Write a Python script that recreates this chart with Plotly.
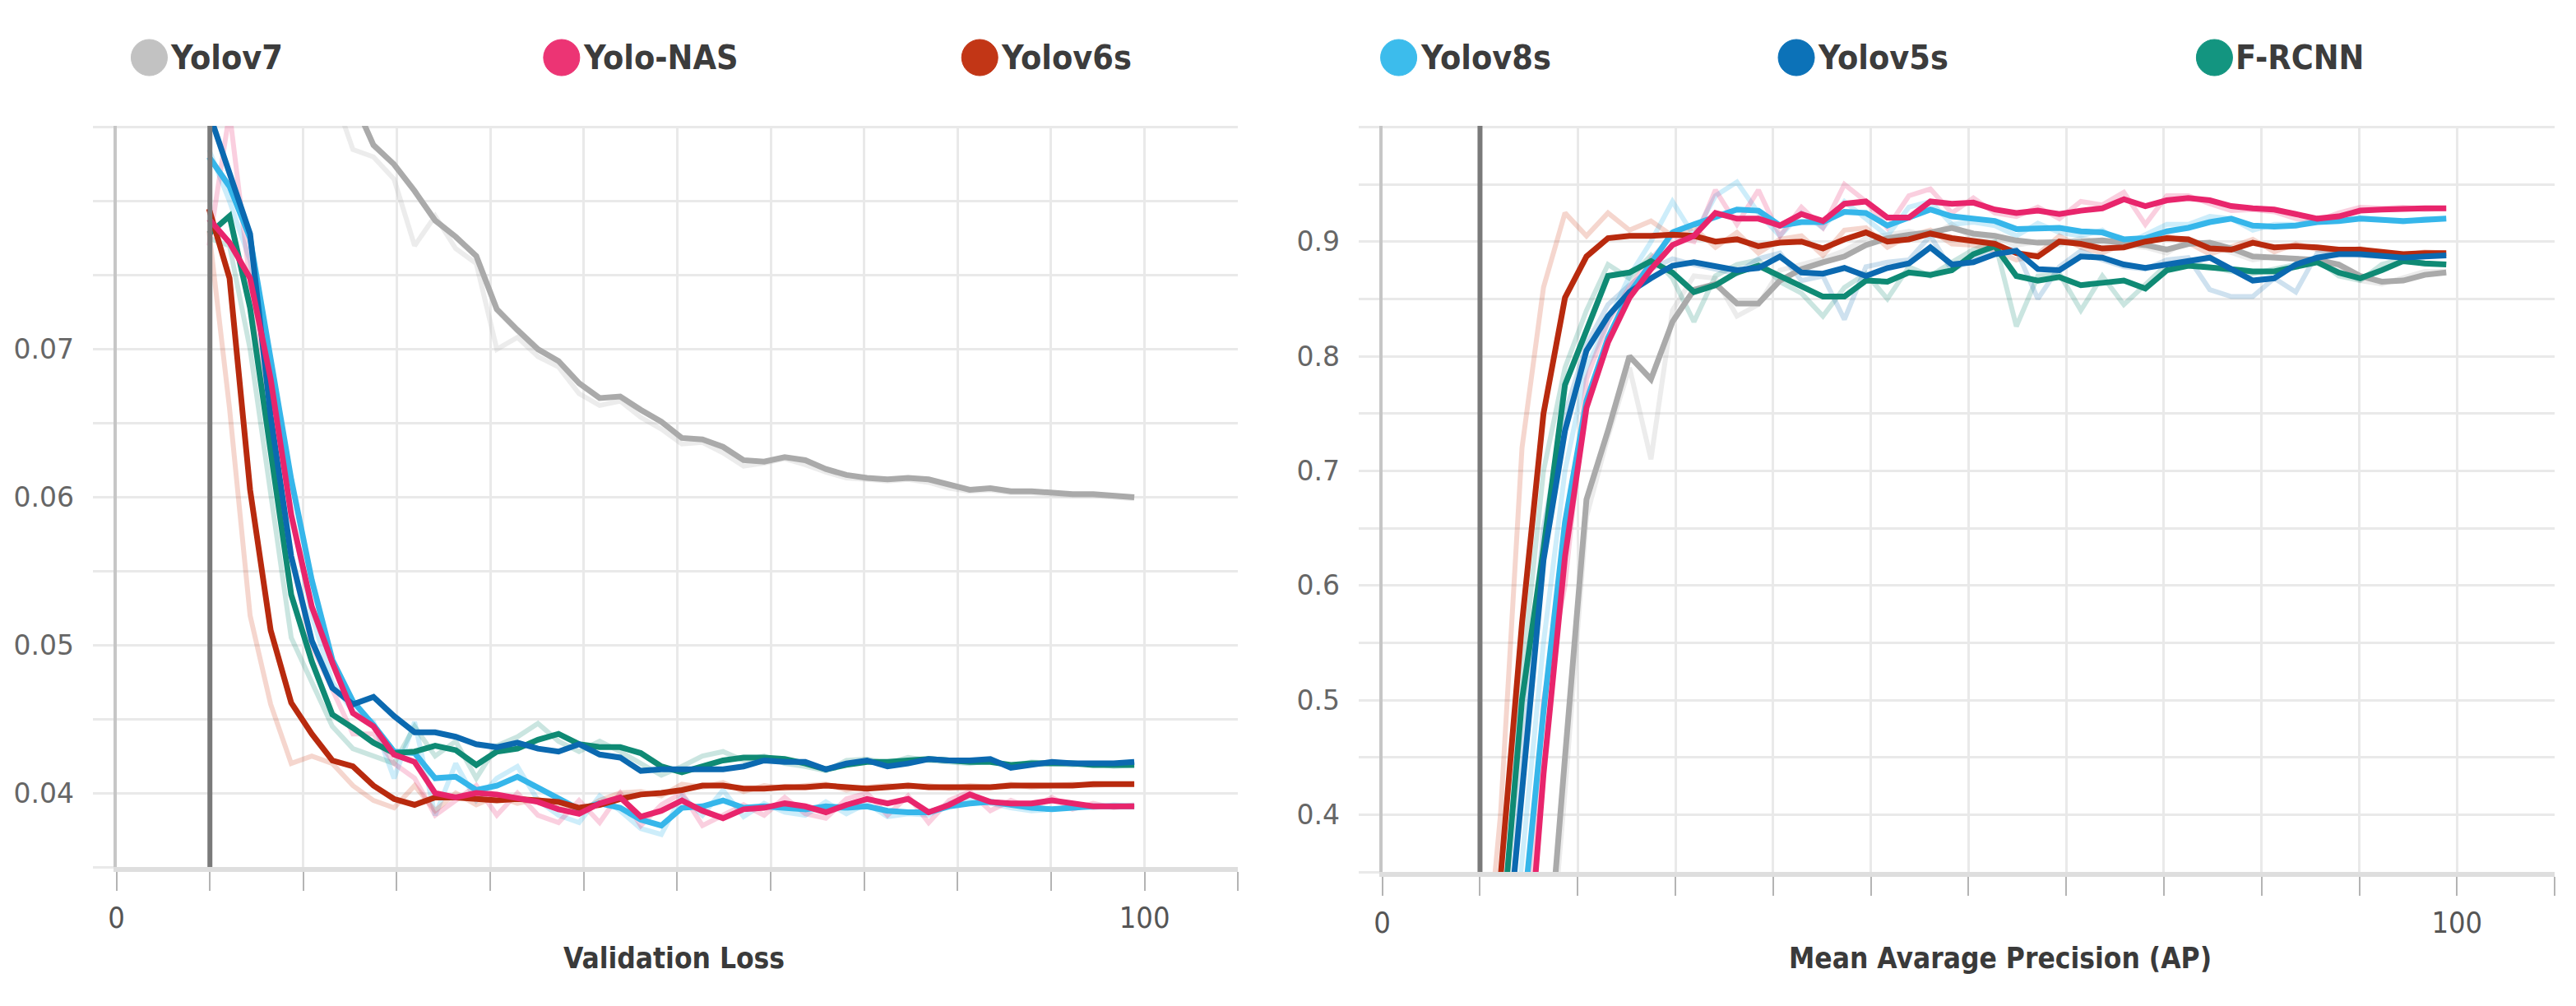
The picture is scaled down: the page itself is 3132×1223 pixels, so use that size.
import plotly.graph_objects as go

# ---------------- data ----------------
MODELS = ["Yolov7", "Yolo-NAS", "Yolov6s", "Yolov8s", "Yolov5s", "F-RCNN"]

EPOCHS = [9, 11, 13, 15, 17, 19, 21, 23, 25, 27,
          29, 31, 33, 35, 37, 39, 41, 43, 45, 47,
          49, 51, 53, 55, 57, 59, 61, 63, 65, 67,
          69, 71, 73, 75, 77, 79, 81, 83, 85, 87,
          89, 91, 93, 95, 97, 99]

# Validation loss (left panel), smoothed curves
LOSS_YOLOV7 = [0.130, 0.120, 0.110, 0.102, 0.097, 0.093, 0.090, 0.087, 0.0838, 0.0825,
               0.0807, 0.0787, 0.0776, 0.0763, 0.0727, 0.0713, 0.0700, 0.0692, 0.0677, 0.0667,
               0.0668, 0.0659, 0.0651, 0.0640, 0.0639, 0.0634, 0.0625, 0.0624, 0.0627, 0.0625,
               0.0619, 0.0615, 0.0613, 0.0612, 0.0613, 0.0612, 0.0608, 0.0605, 0.0606, 0.0604,
               0.0604, 0.0603, 0.0602, 0.0602, 0.0601, 0.0600]
LOSS_YOLONAS = [0.0788, 0.0772, 0.0748, 0.0680, 0.0588, 0.0526, 0.0488, 0.0454, 0.0445, 0.0426,
                0.0421, 0.0400, 0.0397, 0.0400, 0.0399, 0.0396, 0.0394, 0.0389, 0.0386, 0.0393,
                0.0397, 0.0384, 0.0388, 0.0395, 0.0388, 0.0383, 0.0389, 0.0390, 0.0393, 0.0391,
                0.0387, 0.0392, 0.0396, 0.0393, 0.0396, 0.0387, 0.0392, 0.0399, 0.0394, 0.0393,
                0.0393, 0.0395, 0.0393, 0.0391, 0.0391, 0.0391]
LOSS_YOLOV6S = [0.0795, 0.0748, 0.0605, 0.0510, 0.0461, 0.0440, 0.0422, 0.0418, 0.0405, 0.0396,
                0.0392, 0.0397, 0.0397, 0.0396, 0.0395, 0.0396, 0.0395, 0.0394, 0.0390, 0.0392,
                0.0396, 0.0399, 0.0400, 0.0402, 0.0405, 0.0405, 0.0403, 0.0403, 0.0404, 0.0404,
                0.0405, 0.0404, 0.0403, 0.0404, 0.0405, 0.0404, 0.0404, 0.0404, 0.0404, 0.0405,
                0.0405, 0.0405, 0.0405, 0.0406, 0.0406, 0.0406]
LOSS_YOLOV8S = [0.0830, 0.0810, 0.0775, 0.0695, 0.0612, 0.0544, 0.0490, 0.0462, 0.0446, 0.0428,
                0.0427, 0.0410, 0.0411, 0.0402, 0.0405, 0.0411, 0.0404, 0.0397, 0.0389, 0.0393,
                0.0390, 0.0382, 0.0378, 0.0390, 0.0391, 0.0395, 0.0390, 0.0391, 0.0390, 0.0389,
                0.0391, 0.0390, 0.0391, 0.0388, 0.0387, 0.0387, 0.0391, 0.0393, 0.0394, 0.0392,
                0.0390, 0.0389, 0.0390, 0.0391, 0.0391, 0.0391]
LOSS_YOLOV5S = [0.0860, 0.0818, 0.0778, 0.0655, 0.0560, 0.0503, 0.0471, 0.0460, 0.0465, 0.0452,
                0.0441, 0.0441, 0.0438, 0.0433, 0.0431, 0.0434, 0.0430, 0.0428, 0.0433, 0.0426,
                0.0424, 0.0415, 0.0416, 0.0416, 0.0416, 0.0416, 0.0418, 0.0422, 0.0421, 0.0421,
                0.0416, 0.0420, 0.0422, 0.0418, 0.0420, 0.0423, 0.0422, 0.0422, 0.0423, 0.0417,
                0.0419, 0.0421, 0.0420, 0.0420, 0.0420, 0.0421]
LOSS_FRCNN = [0.0778, 0.0790, 0.0728, 0.0632, 0.0534, 0.0489, 0.0453, 0.0444, 0.0434, 0.0427,
              0.0428, 0.0432, 0.0429, 0.0419, 0.0428, 0.0430, 0.0436, 0.0440, 0.0433, 0.0431,
              0.0431, 0.0427, 0.0418, 0.0414, 0.0418, 0.0422, 0.0424, 0.0424, 0.0423, 0.0420,
              0.0416, 0.0419, 0.0421, 0.0421, 0.0422, 0.0423, 0.0422, 0.0421, 0.0421, 0.0419,
              0.0420, 0.0420, 0.0420, 0.0419, 0.0419, 0.0419]

# Validation loss, raw (faint) curves
LOSS_YOLOV7_RAW = [0.125, 0.115, 0.105, 0.099, 0.095, 0.091, 0.0875, 0.0835, 0.0830, 0.0815,
                   0.0770, 0.0790, 0.0768, 0.0758, 0.0700, 0.0708, 0.0695, 0.0688, 0.0670, 0.0662,
                   0.0665, 0.0654, 0.0646, 0.0636, 0.0637, 0.0630, 0.0621, 0.0623, 0.0626, 0.0622,
                   0.0617, 0.0613, 0.0612, 0.0611, 0.0612, 0.0610, 0.0606, 0.0604, 0.0605, 0.0603,
                   0.0603, 0.0602, 0.0601, 0.0601, 0.0600, 0.0599]
LOSS_YOLONAS_RAW = [0.0770, 0.0860, 0.0745, 0.0640, 0.0560, 0.0500, 0.0470, 0.0440, 0.0440, 0.0420,
                    0.0410, 0.0385, 0.0395, 0.0405, 0.0385, 0.0400, 0.0385, 0.0380, 0.0395, 0.0380,
                    0.0400, 0.0378, 0.0392, 0.0400, 0.0378, 0.0385, 0.0392, 0.0385, 0.0397, 0.0386,
                    0.0383, 0.0396, 0.0400, 0.0385, 0.0398, 0.0380, 0.0395, 0.0401, 0.0388, 0.0395,
                    0.0390, 0.0397, 0.0389, 0.0393, 0.0390, 0.0392]
LOSS_YOLOV6S_RAW = [0.0780, 0.0660, 0.0520, 0.0460, 0.0420, 0.0425, 0.0420, 0.0405, 0.0395, 0.0390,
                    0.0405, 0.0388, 0.0400, 0.0392, 0.0398, 0.0393, 0.0396, 0.0390, 0.0387, 0.0395,
                    0.0400, 0.0401, 0.0398, 0.0406, 0.0404, 0.0407, 0.0401, 0.0405, 0.0403, 0.0405,
                    0.0406, 0.0402, 0.0404, 0.0405, 0.0404, 0.0405, 0.0403, 0.0405, 0.0404, 0.0406,
                    0.0404, 0.0405, 0.0406, 0.0405, 0.0406, 0.0406]
LOSS_YOLOV8S_RAW = [0.0835, 0.0800, 0.0760, 0.0680, 0.0590, 0.0520, 0.0475, 0.0455, 0.0448, 0.0410,
                    0.0448, 0.0385, 0.0420, 0.0395, 0.0410, 0.0418, 0.0395, 0.0385, 0.0380, 0.0398,
                    0.0388, 0.0376, 0.0372, 0.0398, 0.0385, 0.0402, 0.0384, 0.0393, 0.0387, 0.0385,
                    0.0394, 0.0386, 0.0393, 0.0384, 0.0386, 0.0385, 0.0393, 0.0395, 0.0393, 0.0390,
                    0.0388, 0.0389, 0.0391, 0.0390, 0.0392, 0.0391]
LOSS_FRCNN_RAW = [0.0775, 0.0770, 0.0700, 0.0600, 0.0505, 0.0475, 0.0445, 0.0430, 0.0425, 0.0420,
                  0.0445, 0.0425, 0.0435, 0.0410, 0.0432, 0.0438, 0.0447, 0.0435, 0.0428, 0.0435,
                  0.0428, 0.0420, 0.0412, 0.0418, 0.0425, 0.0428, 0.0422, 0.0425, 0.0420, 0.0418,
                  0.0415, 0.0422, 0.0423, 0.0420, 0.0424, 0.0422, 0.0421, 0.0420, 0.0422, 0.0418,
                  0.0421, 0.0420, 0.0419, 0.0420, 0.0418, 0.0419]

# Mean average precision (right panel), smoothed curves
AP_YOLOV7 = [0.00, 0.05, 0.12, 0.22, 0.45, 0.675, 0.735, 0.800, 0.780, 0.830,
             0.858, 0.863, 0.846, 0.846, 0.866, 0.876, 0.882, 0.887, 0.897, 0.903,
             0.906, 0.908, 0.912, 0.907, 0.905, 0.901, 0.899, 0.899, 0.900, 0.901,
             0.899, 0.897, 0.893, 0.898, 0.899, 0.894, 0.887, 0.886, 0.886, 0.884,
             0.880, 0.870, 0.865, 0.866, 0.871, 0.873]
AP_YOLONAS = [0.02, 0.10, 0.20, 0.435, 0.625, 0.755, 0.812, 0.851, 0.876, 0.897,
              0.905, 0.925, 0.920, 0.920, 0.914, 0.924, 0.918, 0.933, 0.935, 0.921,
              0.921, 0.935, 0.933, 0.934, 0.928, 0.925, 0.927, 0.924, 0.927, 0.929,
              0.937, 0.931, 0.936, 0.938, 0.936, 0.931, 0.929, 0.928, 0.924, 0.920,
              0.922, 0.927, 0.928, 0.929, 0.929, 0.929]
AP_YOLOV6S = [0.25, 0.345, 0.567, 0.750, 0.851, 0.887, 0.903, 0.905, 0.905, 0.906,
              0.905, 0.900, 0.902, 0.896, 0.899, 0.900, 0.894, 0.902, 0.908, 0.900,
              0.902, 0.907, 0.903, 0.900, 0.898, 0.890, 0.887, 0.900, 0.898, 0.894,
              0.895, 0.900, 0.903, 0.902, 0.894, 0.893, 0.899, 0.895, 0.896, 0.895,
              0.893, 0.893, 0.891, 0.889, 0.890, 0.890]
AP_YOLOV8S = [0.05, 0.15, 0.30, 0.490, 0.655, 0.761, 0.816, 0.855, 0.881, 0.908,
              0.915, 0.921, 0.928, 0.927, 0.914, 0.917, 0.917, 0.926, 0.925, 0.914,
              0.921, 0.928, 0.922, 0.920, 0.918, 0.911, 0.912, 0.912, 0.909, 0.908,
              0.902, 0.903, 0.909, 0.912, 0.917, 0.920, 0.914, 0.913, 0.914, 0.917,
              0.918, 0.920, 0.919, 0.918, 0.919, 0.920]
AP_YOLOV5S = [0.10, 0.22, 0.420, 0.622, 0.735, 0.805, 0.835, 0.856, 0.868, 0.879,
              0.882, 0.879, 0.875, 0.877, 0.887, 0.873, 0.872, 0.877, 0.870, 0.877,
              0.881, 0.895, 0.880, 0.882, 0.889, 0.892, 0.876, 0.875, 0.887, 0.886,
              0.880, 0.877, 0.880, 0.884, 0.886, 0.876, 0.866, 0.868, 0.880, 0.886,
              0.889, 0.889, 0.888, 0.886, 0.887, 0.888]
AP_FRCNN = [0.15, 0.28, 0.500, 0.632, 0.775, 0.822, 0.870, 0.873, 0.883, 0.873,
            0.856, 0.862, 0.873, 0.879, 0.870, 0.862, 0.852, 0.852, 0.866, 0.865,
            0.873, 0.871, 0.875, 0.889, 0.896, 0.870, 0.866, 0.869, 0.862, 0.864,
            0.866, 0.859, 0.875, 0.879, 0.878, 0.876, 0.874, 0.874, 0.878, 0.882,
            0.873, 0.868, 0.875, 0.883, 0.881, 0.880]

# Mean average precision, raw (faint) curves
AP_YOLOV7_RAW = [0.00, 0.04, 0.10, 0.20, 0.42, 0.66, 0.73, 0.79, 0.71, 0.84,
                 0.870, 0.868, 0.835, 0.845, 0.875, 0.880, 0.885, 0.892, 0.903, 0.906,
                 0.909, 0.905, 0.915, 0.903, 0.903, 0.897, 0.900, 0.897, 0.903, 0.899,
                 0.897, 0.895, 0.890, 0.902, 0.897, 0.890, 0.884, 0.887, 0.884, 0.882,
                 0.877, 0.866, 0.863, 0.868, 0.874, 0.874]
AP_YOLONAS_RAW = [0.02, 0.08, 0.22, 0.50, 0.600, 0.78, 0.83, 0.86, 0.885, 0.905,
                  0.900, 0.945, 0.915, 0.945, 0.905, 0.930, 0.912, 0.950, 0.935, 0.912,
                  0.940, 0.946, 0.925, 0.938, 0.925, 0.922, 0.930, 0.920, 0.935, 0.932,
                  0.943, 0.915, 0.940, 0.940, 0.933, 0.927, 0.928, 0.926, 0.920, 0.918,
                  0.925, 0.930, 0.929, 0.930, 0.928, 0.929]
AP_YOLOV6S_RAW = [0.20, 0.40, 0.72, 0.860, 0.925, 0.905, 0.925, 0.910, 0.918, 0.905,
                  0.912, 0.895, 0.908, 0.890, 0.902, 0.905, 0.888, 0.910, 0.912, 0.895,
                  0.905, 0.910, 0.898, 0.897, 0.892, 0.884, 0.889, 0.905, 0.895, 0.890,
                  0.898, 0.903, 0.905, 0.899, 0.889, 0.896, 0.902, 0.891, 0.898, 0.893,
                  0.891, 0.894, 0.889, 0.888, 0.891, 0.890]
AP_YOLOV8S_RAW = [0.06, 0.18, 0.36, 0.55, 0.70, 0.79, 0.83, 0.87, 0.90, 0.935,
                  0.905, 0.940, 0.952, 0.925, 0.905, 0.925, 0.912, 0.935, 0.920, 0.905,
                  0.930, 0.935, 0.915, 0.917, 0.914, 0.905, 0.916, 0.908, 0.905, 0.910,
                  0.897, 0.906, 0.915, 0.915, 0.922, 0.920, 0.910, 0.915, 0.915, 0.919,
                  0.918, 0.921, 0.919, 0.917, 0.920, 0.920]
AP_YOLOV5S_RAW = [0.08, 0.20, 0.45, 0.65, 0.75, 0.81, 0.845, 0.862, 0.876, 0.885,
                  0.880, 0.876, 0.872, 0.885, 0.890, 0.866, 0.870, 0.832, 0.878, 0.882,
                  0.884, 0.905, 0.875, 0.885, 0.895, 0.893, 0.850, 0.878, 0.892, 0.884,
                  0.878, 0.876, 0.884, 0.886, 0.858, 0.852, 0.852, 0.868, 0.856, 0.890,
                  0.891, 0.888, 0.887, 0.886, 0.888, 0.888]
AP_FRCNN_RAW = [0.12, 0.26, 0.52, 0.70, 0.79, 0.84, 0.88, 0.868, 0.888, 0.868,
                0.830, 0.870, 0.880, 0.884, 0.865, 0.855, 0.835, 0.860, 0.872, 0.850,
                0.878, 0.870, 0.882, 0.893, 0.900, 0.826, 0.870, 0.872, 0.840, 0.870,
                0.845, 0.862, 0.880, 0.882, 0.878, 0.874, 0.872, 0.876, 0.880, 0.884,
                0.870, 0.866, 0.880, 0.885, 0.880, 0.880]

X_TICK_LABELS = ["0", "", "", "", "", "", "", "", "", "", "", "100", ""]
LOSS_TICKS = [0.035, 0.04, 0.045, 0.05, 0.055, 0.06, 0.065, 0.07, 0.075, 0.08, 0.085]
LOSS_TICK_LABELS = ["", "0.04", "", "0.05", "", "0.06", "", "0.07", "", "", ""]
AP_TICKS = [0.35, 0.4, 0.45, 0.5, 0.55, 0.6, 0.65, 0.7, 0.75, 0.8, 0.85, 0.9, 0.95, 1.0]
AP_TICK_LABELS = ["", "0.4", "", "0.5", "", "0.6", "", "0.7", "", "0.8", "", "0.9", "", ""]
X_LABELS = ["Validation Loss", "Mean Avarage Precision (AP)"]

LOSS = {"Yolov7": LOSS_YOLOV7, "Yolo-NAS": LOSS_YOLONAS, "Yolov6s": LOSS_YOLOV6S,
        "Yolov8s": LOSS_YOLOV8S, "Yolov5s": LOSS_YOLOV5S, "F-RCNN": LOSS_FRCNN}
AP = {"Yolov7": AP_YOLOV7, "Yolo-NAS": AP_YOLONAS, "Yolov6s": AP_YOLOV6S,
      "Yolov8s": AP_YOLOV8S, "Yolov5s": AP_YOLOV5S, "F-RCNN": AP_FRCNN}
LOSS_RAW = {"Yolov7": LOSS_YOLOV7_RAW, "Yolo-NAS": LOSS_YOLONAS_RAW, "Yolov6s": LOSS_YOLOV6S_RAW,
            "Yolov8s": LOSS_YOLOV8S_RAW, "F-RCNN": LOSS_FRCNN_RAW}
AP_RAW = {"Yolov7": AP_YOLOV7_RAW, "Yolo-NAS": AP_YOLONAS_RAW, "Yolov6s": AP_YOLOV6S_RAW,
          "Yolov8s": AP_YOLOV8S_RAW, "Yolov5s": AP_YOLOV5S_RAW, "F-RCNN": AP_FRCNN_RAW}

# ---------------- style ----------------
W, H = 3132, 1223
COLORS = {"Yolov7": "#aaaaaa", "Yolo-NAS": "#e8256c", "Yolov6s": "#b82a0e",
          "Yolov8s": "#36b6ea", "Yolov5s": "#0b69b0", "F-RCNN": "#0f8a74"}
FAINT = {"Yolov7": "rgba(180,180,180,0.25)", "Yolo-NAS": "rgba(232,37,108,0.22)",
         "Yolov6s": "rgba(214,90,60,0.25)", "Yolov8s": "rgba(54,182,234,0.25)",
         "Yolov5s": "rgba(11,105,176,0.20)", "F-RCNN": "rgba(15,138,116,0.22)"}
LEGEND_COLORS = {"Yolov7": "#c2c2c2", "Yolo-NAS": "#ec3474", "Yolov6s": "#c23616",
                 "Yolov8s": "#3cbcec", "Yolov5s": "#0c72b8", "F-RCNN": "#139580"}
DRAW_ORDER = ["Yolov7", "Yolov8s", "F-RCNN", "Yolov6s", "Yolov5s", "Yolo-NAS"]
COND = "DejaVu Sans Condensed, Liberation Sans Narrow, Roboto, sans-serif"
NUMFONT = "DejaVu Sans, Verdana, sans-serif"

STEP = 100 / 11
X_TICKS = [i * STEP for i in range(13)]
X_RANGE = [0, 12 * STEP]

fig = go.Figure()
# faint raw curves underneath
for name in DRAW_ORDER:
    if name in LOSS_RAW:
        fig.add_trace(go.Scatter(x=EPOCHS, y=LOSS_RAW[name], mode="lines",
                                 line=dict(color=FAINT[name], width=6),
                                 xaxis="x", yaxis="y", showlegend=False, hoverinfo="skip"))
    if name in AP_RAW:
        fig.add_trace(go.Scatter(x=EPOCHS, y=AP_RAW[name], mode="lines",
                                 line=dict(color=FAINT[name], width=6),
                                 xaxis="x2", yaxis="y2", showlegend=False, hoverinfo="skip"))
# smoothed curves
for name in DRAW_ORDER:
    fig.add_trace(go.Scatter(x=EPOCHS, y=LOSS[name], mode="lines", name=name,
                             line=dict(color=COLORS[name], width=7),
                             xaxis="x", yaxis="y", showlegend=False, hoverinfo="skip"))
    fig.add_trace(go.Scatter(x=EPOCHS, y=AP[name], mode="lines", name=name,
                             line=dict(color=COLORS[name], width=7),
                             xaxis="x2", yaxis="y2", showlegend=False, hoverinfo="skip"))

def xax(domain):
    return dict(domain=domain, range=X_RANGE, tickmode="array", tickvals=X_TICKS,
                ticktext=X_TICK_LABELS, showgrid=True, gridcolor="#e9e9e9", gridwidth=3,
                ticks="outside", ticklen=23, tickwidth=2, tickcolor="#b4b4b4",
                showline=True, linecolor="#dedede", linewidth=6, zeroline=False,
                tickfont=dict(family=COND, size=36, color="#555555"),
                ticklabelstandoff=2, fixedrange=True)

def yax(domain, rng, tv, tt, anchor):
    return dict(domain=domain, range=rng, tickmode="array", tickvals=tv, ticktext=tt,
                showgrid=True, gridcolor="#e9e9e9", gridwidth=3,
                ticks="outside", ticklen=25, tickwidth=3, tickcolor="#e9e9e9",
                showline=True, linecolor="#c6c6c6", linewidth=4, zeroline=False,
                tickfont=dict(family=NUMFONT, size=33, color="#666666"),
                ticklabelstandoff=16, anchor=anchor, fixedrange=True)

fig.update_layout(
    width=W, height=H, margin=dict(l=0, r=0, t=0, b=0),
    paper_bgcolor="white", plot_bgcolor="white", showlegend=False,
    xaxis=dict(xax([132 / W, 1500 / W]), anchor="y"),
    yaxis=yax([1 - 1054 / H, 1 - 153 / H], [0.035, 0.0851], LOSS_TICKS, LOSS_TICK_LABELS, "x"),
    xaxis2=dict(xax([1676 / W, 3106 / W]), anchor="y2"),
    yaxis2=yax([1 - 1060 / H, 1 - 153 / H], [0.35, 1.001], AP_TICKS, AP_TICK_LABELS, "x2"),
)

# cursor lines
for xr, yr in (("x", "y domain"), ("x2", "y2 domain")):
    fig.add_shape(type="line", xref=xr, yref=yr, x0=STEP, x1=STEP, y0=0, y1=1,
                  line=dict(color="#7a7a7a", width=6), layer="above")

# legend (circles + text)
LEG_X = [172, 675, 1185, 1696, 2181, 2691]
LEG_Y = 70
for name, cx in zip(MODELS, LEG_X):
    fig.add_shape(type="circle", xref="paper", yref="paper", xsizemode="pixel", ysizemode="pixel",
                  xanchor=cx / W, yanchor=1 - LEG_Y / H, x0=-22, x1=22, y0=-22, y1=22,
                  fillcolor=LEGEND_COLORS[name], line=dict(color=LEGEND_COLORS[name], width=1))
    fig.add_annotation(x=(cx + 24) / W, y=1 - LEG_Y / H, xref="paper", yref="paper",
                       xanchor="left", yanchor="middle", showarrow=False, text="<b>" + name + "</b>",
                       font=dict(family=COND, size=41, color="#3c3c3c"))

# axis titles
for txt, cx in zip(X_LABELS, [812, 2430]):
    fig.add_annotation(x=cx / W, y=1 - 1165 / H, xref="paper", yref="paper",
                       xanchor="center", yanchor="middle", showarrow=False,
                       text="<b>" + txt + "</b>",
                       font=dict(family=COND, size=35, color="#3a3a3a"))

fig.write_html("out.html", config={"displayModeBar": False},
               post_script="document.body.style.margin='0';document.body.style.overflow='hidden';")
